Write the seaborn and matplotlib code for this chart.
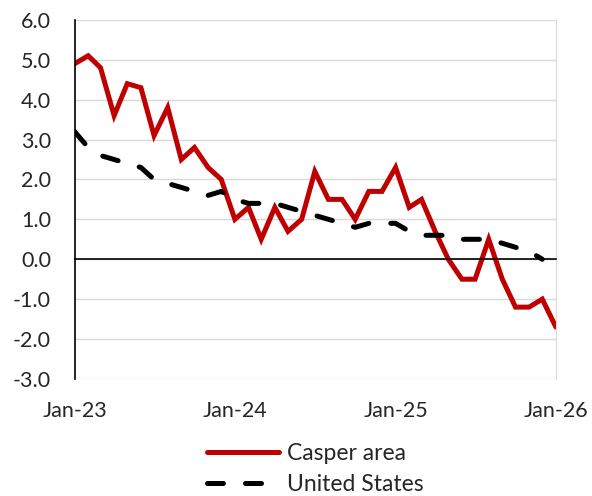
import pandas as pd
import numpy as np
import matplotlib.pyplot as plt
import seaborn as sns

sns.set_style("white")
plt.rcParams['font.family'] = ['Lato', 'DejaVu Sans']

# monthly values, Jan-23 onward
casper = [4.9, 5.1, 4.8, 3.6, 4.4, 4.3, 3.1, 3.8, 2.5, 2.8, 2.3, 2.0,
          1.0, 1.3, 0.5, 1.3, 0.7, 1.0, 2.2, 1.5, 1.5, 1.0, 1.7, 1.7,
          2.3, 1.3, 1.5, 0.7, 0.0, -0.5, -0.5, 0.5, -0.5, -1.2, -1.2, -1.0,
          -1.7]
us = [3.2, 2.8, 2.6, 2.5, 2.4, 2.3, 2.0, 1.9, 1.8, 1.7, 1.6, 1.7,
      1.5, 1.4, 1.4, 1.4, 1.3, 1.2, 1.1, 1.0, 0.9, 0.8, 0.9, 0.9,
      0.9, 0.7, 0.6, 0.6, 0.6, 0.5, 0.5, 0.5, 0.4, 0.3, 0.2, 0.0]
tick_labels = ['Jan-23', 'Jan-24', 'Jan-25', 'Jan-26']

dates_c = pd.date_range('2023-01-01', periods=len(casper), freq='MS')
dates_u = pd.date_range('2023-01-01', periods=len(us), freq='MS')
df_c = pd.DataFrame({'date': dates_c, 'val': casper})
df_u = pd.DataFrame({'date': dates_u, 'val': us})

fig = plt.figure(figsize=(5.92, 4.96), dpi=100)
ax = fig.add_axes([0.126, 0.236, 0.813, 0.724])

sns.lineplot(data=df_c, x='date', y='val', ax=ax, color='#C00000', lw=3.6,
             solid_capstyle='round', solid_joinstyle='miter', label='Casper area')
sns.lineplot(data=df_u, x='date', y='val', ax=ax, color='black', lw=3.6,
             linestyle=(0, (3.2, 4.4)), dash_capstyle='round', label='United States')

ax.set_ylim(-3, 6)
ax.set_yticks(np.arange(-3, 7, 1))
ax.set_yticklabels([f'{v:.1f}' for v in np.arange(-3, 7, 1)])
ax.yaxis.grid(True, color='#D9D9D9', lw=1)
ax.set_axisbelow(True)

xt = pd.to_datetime(['2023-01-01', '2024-01-01', '2025-01-01', '2026-01-01'])
ax.set_xlim(xt[0], xt[-1])
ax.set_xticks(xt)
ax.set_xticklabels([])
ax.spines['bottom'].set_position(('data', 0))
ax.spines['bottom'].set_color('black')
ax.spines['bottom'].set_linewidth(1.2)
ax.tick_params(axis='x', direction='inout', length=12, width=1.2, color='black')
ax.tick_params(axis='y', length=0, pad=17, labelsize=15.5)
ax.spines['left'].set_color('black')
ax.spines['left'].set_linewidth(1.2)
ax.spines['right'].set_color('#D9D9D9')
ax.spines['top'].set_visible(False)
ax.set_xlabel('')
ax.set_ylabel('')

sec = ax.secondary_xaxis(0)
sec.set_xticks(xt)
sec.set_xticklabels(tick_labels)
sec.tick_params(length=0, pad=16, labelsize=15.5)
sec.spines['bottom'].set_visible(False)

ax.legend(loc='center left', bbox_to_anchor=(0.335, 0.055),
          bbox_transform=fig.transFigure, frameon=False,
          fontsize=16.5, handlelength=3.1, handletextpad=0.35, labelspacing=0.45,
          borderaxespad=0)

fig.savefig('out.png', dpi=100)
